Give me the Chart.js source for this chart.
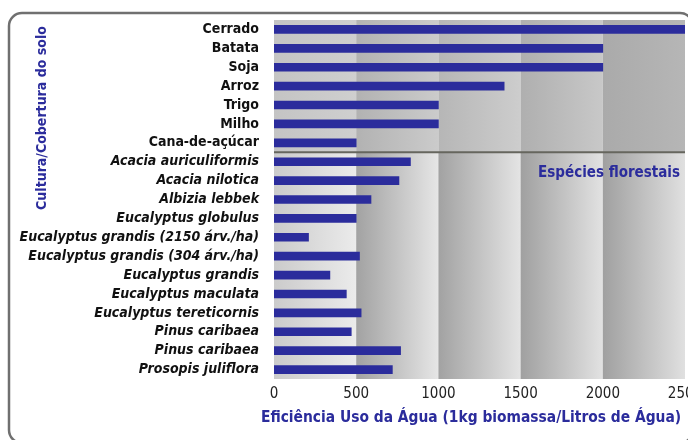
<!DOCTYPE html>
<html>
<head>
<meta charset="utf-8">
<script src="https://cdn.jsdelivr.net/npm/chart.js@4.4.0/dist/chart.umd.min.js"></script>
<style>
    html, body { margin: 0; padding: 0; background: #fff; overflow: hidden; }
    #wrap { width: 688px; height: 440px; position: relative; }
</style>
</head>
<body>
<div id="wrap"><canvas id="chart" width="688" height="440"></canvas></div>
<script>
// Data
const categories = [
    'Cerrado', 'Batata', 'Soja', 'Arroz', 'Trigo', 'Milho', 'Cana-de-açúcar',
    'Acacia auriculiformis', 'Acacia nilotica', 'Albizia lebbek', 'Eucalyptus globulus',
    'Eucalyptus grandis (2150 árv./ha)', 'Eucalyptus grandis (304 árv./ha)',
    'Eucalyptus grandis', 'Eucalyptus maculata', 'Eucalyptus tereticornis',
    'Pinus caribaea', 'Pinus caribaea', 'Prosopis juliflora'
];
const values = [2500, 2000, 2000, 1400, 1000, 1000, 500,
    830, 760, 590, 500, 210, 520, 340, 440, 530, 470, 770, 720];
const xTicks = [0, 500, 1000, 1500, 2000, 2500];
const cropCount = 7; // first rows are crops, the rest forest species
const xTitle = 'Eficiência Uso da Água (1kg biomassa/Litros de Água)';
const yTitle = 'Cultura/Cobertura do solo';
const groupLabel = 'Espécies florestais';

const BLUE = '#2b2c9c';
const FONT = "'DejaVu Sans Condensed', 'Liberation Sans Narrow', sans-serif";

// column shading, top block (crops) and bottom block (forest species)
const topShades = [['#c4c4c4', '#cfcfcf'], ['#b2b2b2', '#cbcbcb'], ['#b6b6b6', '#cdcdcd'],
    ['#afafaf', '#c8c8c8'], ['#aaaaaa', '#b6b6b6']];
const bottomShades = [['#cbcbcb', '#ebebeb'], ['#a2a2a2', '#e6e6e6'], ['#a2a2a2', '#e4e4e4'],
    ['#a0a0a0', '#e2e2e2'], ['#a0a0a0', '#e0e0e0']];

const decorPlugin = {
    id: 'decor',
    beforeDatasetsDraw(chart) {
        const {ctx, chartArea: a, scales: {x, y}} = chart;
        const split = y.getPixelForValue(cropCount - 0.5);
        ctx.save();
        for (let i = 0; i < xTicks.length - 1; i++) {
            const x0 = x.getPixelForValue(xTicks[i]);
            const x1 = x.getPixelForValue(xTicks[i + 1]);
            let g = ctx.createLinearGradient(x0, 0, x1, 0);
            g.addColorStop(0, topShades[i][0]);
            g.addColorStop(1, topShades[i][1]);
            ctx.fillStyle = g;
            ctx.fillRect(x0, a.top, x1 - x0, split - a.top);
            g = ctx.createLinearGradient(x0, 0, x1, 0);
            g.addColorStop(0, bottomShades[i][0]);
            g.addColorStop(1, bottomShades[i][1]);
            ctx.fillStyle = g;
            ctx.fillRect(x0, split, x1 - x0, a.bottom - split);
        }
        ctx.strokeStyle = '#66665e';
        ctx.lineWidth = 2;
        ctx.beginPath();
        ctx.moveTo(a.left, split);
        ctx.lineTo(a.right, split);
        ctx.stroke();
        ctx.restore();
    },
    afterDraw(chart) {
        const {ctx, chartArea: a, scales: {y}} = chart;
        const split = y.getPixelForValue(cropCount - 0.5);
        ctx.save();
        ctx.fillStyle = BLUE;
        ctx.font = 'bold 15px ' + FONT;
        ctx.textAlign = 'right';
        ctx.textBaseline = 'middle';
        ctx.fillText(groupLabel, a.right - 5, split + 21);

        // x title is wider than the plot, so it is drawn here
        ctx.textAlign = 'center';
        ctx.font = 'bold 15.4px ' + FONT;
        ctx.fillText(xTitle, 471, 418);

        // rotated y title, sitting in the upper part
        ctx.translate(42, 118);
        ctx.rotate(-Math.PI / 2);
        ctx.font = 'bold 14px ' + FONT;
        ctx.fillText(yTitle, 0, 0);
        ctx.restore();

        // rounded frame, right and bottom edges run off the canvas
        ctx.save();
        ctx.strokeStyle = '#707070';
        ctx.lineWidth = 2.5;
        ctx.beginPath();
        ctx.roundRect(9, 13, 684, 430, 13);
        ctx.stroke();
        ctx.restore();
    }
};

new Chart(document.getElementById('chart'), {
    type: 'bar',
    data: {
        labels: categories,
        datasets: [{
            data: values,
            backgroundColor: BLUE,
            barThickness: 8
        }]
    },
    options: {
        indexAxis: 'y',
        responsive: false,
        animation: false,
        layout: { padding: { left: 10, right: 3, top: 20, bottom: 11 } },
        plugins: { legend: { display: false }, tooltip: { enabled: false } },
        scales: {
            x: {
                min: 0,
                max: 2500,
                afterBuildTicks: s => { s.ticks = xTicks.map(v => ({ value: v })); },
                afterFit: s => { s.paddingLeft = 0; s.paddingRight = 0; s.height = 50; },
                grid: { display: false },
                border: { display: false },
                ticks: {
                    color: '#222',
                    padding: -2,
                    callback: v => String(v),
                    font: { family: FONT, size: 15 }
                }
            },
            y: {
                afterFit: s => { s.width = 264; s.paddingTop = 0; s.paddingBottom = 0; },
                grid: { display: false },
                border: { display: false },
                ticks: {
                    color: '#111',
                    padding: 7,
                    autoSkip: false,
                    font: ctx => ({
                        family: FONT,
                        size: 14,
                        weight: 'bold',
                        style: ctx.index >= cropCount ? 'italic' : 'normal'
                    })
                }
            }
        }
    },
    plugins: [decorPlugin]
});
</script>
</body>
</html>
